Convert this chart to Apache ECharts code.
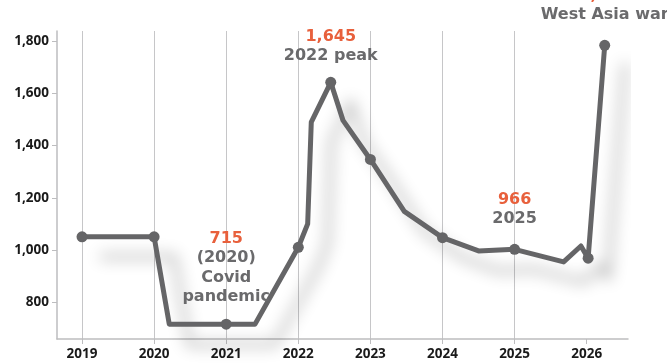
<!DOCTYPE html>
<html><head><meta charset="utf-8">
<script src="https://cdn.jsdelivr.net/npm/echarts@6/dist/echarts.min.js"></script>
<style>html,body{margin:0;padding:0;background:#fff}#c{width:667px;height:364px}</style>
</head><body><div id="c"></div>
<script>
// x positions as decimal years, y = price
const xYears = [2019.00, 2020.00, 2020.21, 2021.00, 2021.40, 2022.00, 2022.13, 2022.18, 2022.45, 2022.62, 2023.00, 2023.47, 2024.00, 2024.50, 2025.00, 2025.68, 2025.92, 2026.02, 2026.25];
const prices = [1050, 1050, 715, 715, 715, 1010, 1100, 1490, 1643, 1497, 1347, 1148, 1047, 996, 1002, 954, 1015, 968, 1785];
const hasMarker = [1, 1, 0, 1, 0, 1, 0, 0, 1, 0, 1, 0, 1, 0, 1, 0, 0, 1, 1];
const yearTicks = [2019, 2020, 2021, 2022, 2023, 2024, 2025, 2026];
const priceTicks = [800, 1000, 1200, 1400, 1600, 1800];
const annoIndex = [3, 8, 14, 18];
const annoValue = ['715', '1,645', '966', '1,785'];
const annoText = ['(2020)\nCovid\npandemic', '2022 peak', '2025', 'West Asia war'];

const LINE = '#656567', ORANGE = '#e8603c', GREYTXT = '#6a6a6c';
const annoOffset = [[-7, 0], [-1, 0], [1, 0], [0, 0]];
const annoDist = [12, 11, 15, 15];

const data = xYears.map((x, i) => {
  const item = { value: [x, prices[i]] };
  if (!hasMarker[i]) item.symbol = 'none';
  const k = annoIndex.indexOf(i);
  if (k >= 0) {
    const lines = annoText[k].split('\n').map(s => '{t|' + s + '}').join('\n');
    item.label = {
      show: true, position: 'top', distance: annoDist[k], offset: annoOffset[k],
      align: 'center',
      formatter: '{v|' + annoValue[k] + '}\n' + lines,
      rich: {
        v: { color: ORANGE, fontFamily: 'DejaVu Sans', fontWeight: 'bold', fontSize: 16, lineHeight: 19.5, align: 'center' },
        t: { color: GREYTXT, fontFamily: 'DejaVu Sans', fontWeight: 'bold', fontSize: 16, lineHeight: 19.5, align: 'center' }
      }
    };
  }
  return item;
});

const chart = echarts.init(document.getElementById('c'), null, { renderer: 'canvas' });
const axisFont = { fontFamily: 'Open Sans', fontWeight: 'bold', fontSize: 13.5, color: '#1a1a1a' };
chart.setOption({
  animation: false,
  backgroundColor: '#ffffff',
  grid: { left: 57, right: 39, top: 31, bottom: 25, containLabel: false },
  xAxis: {
    type: 'value', min: 2018.653, max: 2026.573, splitNumber: 8,
    axisLine: { show: true, lineStyle: { color: '#bdbdbf', width: 1.5 } },
    axisTick: { show: true, length: 5, lineStyle: { color: '#bdbdbf' }, customValues: yearTicks },
    axisLabel: Object.assign({ customValues: yearTicks, margin: 8, formatter: v => String(Math.round(v)) }, axisFont),
    splitLine: { show: true, showMinLine: true, showMaxLine: false, lineStyle: { color: '#c6c6c8', width: 1 } }
  },
  yAxis: {
    type: 'value', min: 658, max: 1840, splitNumber: 6,
    axisLine: { show: true, lineStyle: { color: '#bdbdbf', width: 1.5 } },
    axisTick: { show: true, length: 5, lineStyle: { color: '#bdbdbf' }, customValues: priceTicks },
    axisLabel: Object.assign({ customValues: priceTicks, margin: 8, formatter: v => v.toLocaleString('en-US') }, axisFont),
    splitLine: { show: false }
  },
  series: [{
    type: 'line', data: data, symbol: 'circle', symbolSize: 11, showAllSymbol: true,
    itemStyle: { color: LINE },
    lineStyle: { color: LINE, width: 5, join: 'round', cap: 'round',
      shadowColor: 'rgba(0,0,0,0.3)', shadowBlur: 15, shadowOffsetX: 20, shadowOffsetY: 20 },
    labelLayout: { hideOverlap: false },
    clip: false, z: 3
  }]
});
</script></body></html>
